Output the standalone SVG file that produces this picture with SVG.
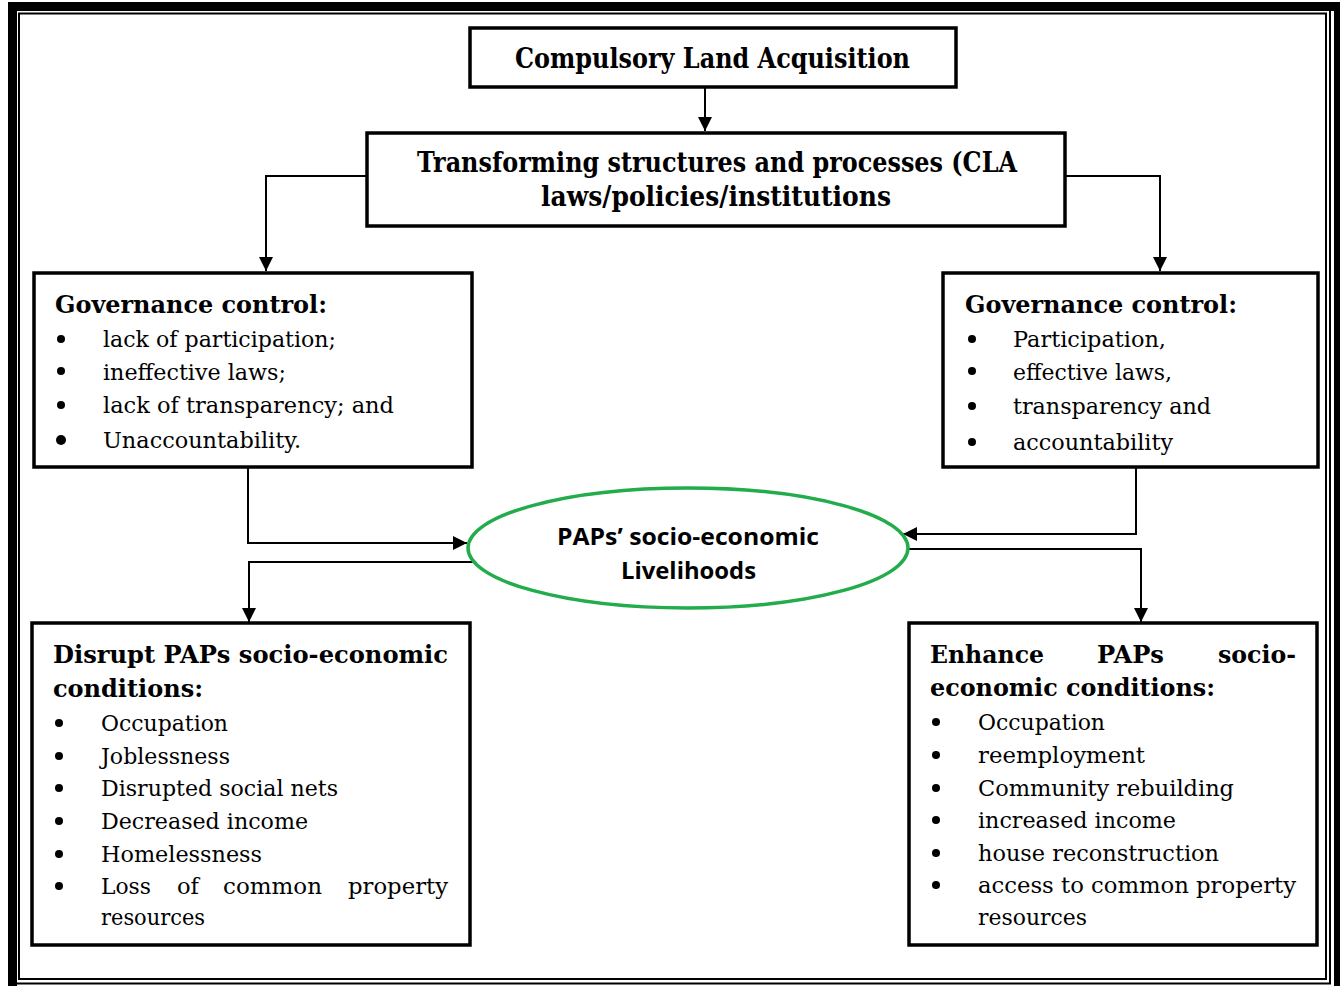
<svg xmlns="http://www.w3.org/2000/svg" width="1340" height="986" viewBox="0 0 1340 986">
<style>
.box{fill:#fff;stroke:#000;stroke-width:3.5}
.con{fill:none;stroke:#000;stroke-width:2}
.tb{font-family:"DejaVu Serif","Liberation Serif",serif;font-weight:bold;fill:#000}
.tr{font-family:"DejaVu Serif","Liberation Serif",serif;font-weight:normal;fill:#000;font-size:22px}
.ts{font-family:"Open Sans","Liberation Sans",sans-serif;font-weight:bold;fill:#000;font-size:24px}
.bul{fill:#000}
</style>
<defs>
<marker id="ah" viewBox="0 0 10 10" refX="10" refY="5" markerUnits="userSpaceOnUse" markerWidth="14" markerHeight="14" orient="auto">
<path d="M0,0 L10,5 L0,10 z" fill="#000"/>
</marker>
</defs>
<rect width="1340" height="986" fill="#fff"/>
<g id="page-border">
<rect x="8" y="2" width="9" height="984" fill="#000"/>
<rect x="8" y="2" width="1328" height="9" fill="#000"/>
<rect x="1334" y="2" width="6" height="984" fill="#000"/>
<rect x="19" y="13.5" width="1307" height="965.5" fill="none" stroke="#000" stroke-width="2"/>
<path d="M1330,11 V983.5 H17" fill="none" stroke="#000" stroke-width="2"/>
</g>
<g id="connectors">
<path class="con" d="M705,88 V131" marker-end="url(#ah)"/>
<path class="con" d="M367,176 H266 V271" marker-end="url(#ah)"/>
<path class="con" d="M1065,176 H1160 V271" marker-end="url(#ah)"/>
<path class="con" d="M248,467 V543 H467" marker-end="url(#ah)"/>
<path class="con" d="M473,562 H249 V622" marker-end="url(#ah)"/>
<path class="con" d="M1136,467 V534 H903" marker-end="url(#ah)"/>
<path class="con" d="M909,549 H1141 V622" marker-end="url(#ah)"/>
</g>
<g id="node-cla">
<rect class="box" x="470" y="28" width="486" height="59"/>
<text class="tb" x="515" y="68" font-size="27" textLength="395" lengthAdjust="spacingAndGlyphs">Compulsory Land Acquisition</text>
</g>
<g id="node-transforming">
<rect class="box" x="367" y="133" width="698" height="93"/>
<text class="tb" x="417" y="172" font-size="27" textLength="600" lengthAdjust="spacingAndGlyphs">Transforming structures and processes (CLA</text>
<text class="tb" x="541" y="206" font-size="27" textLength="350" lengthAdjust="spacingAndGlyphs">laws/policies/institutions</text>
</g>
<g id="node-gov-left">
<rect class="box" x="34" y="273" width="438" height="194"/>
<text class="tb" x="55" y="313" font-size="25" textLength="272" lengthAdjust="spacingAndGlyphs">Governance control:</text>
<circle class="bul" cx="61" cy="339" r="4"/>
<circle class="bul" cx="61" cy="371" r="4"/>
<circle class="bul" cx="61" cy="405" r="4"/>
<circle class="bul" cx="61" cy="440" r="5"/>
<text class="tr" x="103" y="347" textLength="233" lengthAdjust="spacingAndGlyphs">lack of participation;</text>
<text class="tr" x="103" y="380" textLength="183" lengthAdjust="spacingAndGlyphs">ineffective laws;</text>
<text class="tr" x="103" y="413" textLength="291" lengthAdjust="spacingAndGlyphs">lack of transparency;  and</text>
<text class="tr" x="103" y="448" textLength="198" lengthAdjust="spacingAndGlyphs">Unaccountability.</text>
</g>
<g id="node-gov-right">
<rect class="box" x="943" y="273" width="375" height="194"/>
<text class="tb" x="965" y="313" font-size="25" textLength="272" lengthAdjust="spacingAndGlyphs">Governance control:</text>
<circle class="bul" cx="972" cy="339" r="4"/>
<circle class="bul" cx="972" cy="371" r="4"/>
<circle class="bul" cx="972" cy="406" r="4"/>
<circle class="bul" cx="972" cy="442" r="4"/>
<text class="tr" x="1013" y="347" textLength="153" lengthAdjust="spacingAndGlyphs">Participation,</text>
<text class="tr" x="1013" y="380" textLength="159" lengthAdjust="spacingAndGlyphs">effective laws,</text>
<text class="tr" x="1013" y="414" textLength="198" lengthAdjust="spacingAndGlyphs">transparency and</text>
<text class="tr" x="1013" y="450" textLength="160" lengthAdjust="spacingAndGlyphs">accountability</text>
</g>
<g id="node-livelihoods">
<ellipse cx="688" cy="548" rx="220" ry="60" fill="#fff" stroke="#22ac4c" stroke-width="3.5"/>
<text class="ts" x="557" y="545" textLength="262" lengthAdjust="spacingAndGlyphs">PAPs’ socio-economic</text>
<text class="ts" x="621" y="579" textLength="135" lengthAdjust="spacingAndGlyphs">Livelihoods</text>
</g>
<g id="node-disrupt">
<rect class="box" x="32" y="623" width="438" height="322"/>
<text class="tb" x="53" y="663" font-size="25" textLength="395" lengthAdjust="spacingAndGlyphs">Disrupt PAPs socio-economic</text>
<text class="tb" x="53" y="697" font-size="25" textLength="150" lengthAdjust="spacingAndGlyphs">conditions:</text>
<circle class="bul" cx="59" cy="723" r="4"/>
<circle class="bul" cx="59" cy="756" r="4"/>
<circle class="bul" cx="59" cy="788" r="4"/>
<circle class="bul" cx="59" cy="821" r="4"/>
<circle class="bul" cx="59" cy="854" r="4"/>
<circle class="bul" cx="59" cy="886" r="4"/>
<text class="tr" x="101" y="731" textLength="127" lengthAdjust="spacingAndGlyphs">Occupation</text>
<text class="tr" x="101" y="764" textLength="129" lengthAdjust="spacingAndGlyphs">Joblessness</text>
<text class="tr" x="101" y="796" textLength="237" lengthAdjust="spacingAndGlyphs">Disrupted social nets</text>
<text class="tr" x="101" y="829" textLength="207" lengthAdjust="spacingAndGlyphs">Decreased income</text>
<text class="tr" x="101" y="862" textLength="161" lengthAdjust="spacingAndGlyphs">Homelessness</text>
<text class="tr" x="101" y="894" textLength="50" lengthAdjust="spacingAndGlyphs">Loss</text>
<text class="tr" x="177" y="894" textLength="22" lengthAdjust="spacingAndGlyphs">of</text>
<text class="tr" x="223" y="894" textLength="99" lengthAdjust="spacingAndGlyphs">common</text>
<text class="tr" x="348" y="894" textLength="100" lengthAdjust="spacingAndGlyphs">property</text>
<text class="tr" x="101" y="925" textLength="104" lengthAdjust="spacingAndGlyphs">resources</text>
</g>
<g id="node-enhance">
<rect class="box" x="909" y="623" width="408" height="322"/>
<text class="tb" x="930" y="663" font-size="25" textLength="114" lengthAdjust="spacingAndGlyphs">Enhance</text>
<text class="tb" x="1097" y="663" font-size="25" textLength="67" lengthAdjust="spacingAndGlyphs">PAPs</text>
<text class="tb" x="1218" y="663" font-size="25" textLength="78" lengthAdjust="spacingAndGlyphs">socio-</text>
<text class="tb" x="930" y="696" font-size="25" textLength="285" lengthAdjust="spacingAndGlyphs">economic conditions:</text>
<circle class="bul" cx="936" cy="722" r="4"/>
<circle class="bul" cx="936" cy="755" r="4"/>
<circle class="bul" cx="936" cy="788" r="4"/>
<circle class="bul" cx="936" cy="820" r="4"/>
<circle class="bul" cx="936" cy="853" r="4"/>
<circle class="bul" cx="936" cy="885" r="4"/>
<text class="tr" x="978" y="730" textLength="127" lengthAdjust="spacingAndGlyphs">Occupation</text>
<text class="tr" x="978" y="763" textLength="167" lengthAdjust="spacingAndGlyphs">reemployment</text>
<text class="tr" x="978" y="796" textLength="256" lengthAdjust="spacingAndGlyphs">Community rebuilding</text>
<text class="tr" x="978" y="828" textLength="198" lengthAdjust="spacingAndGlyphs">increased income</text>
<text class="tr" x="978" y="861" textLength="241" lengthAdjust="spacingAndGlyphs">house reconstruction</text>
<text class="tr" x="978" y="893" textLength="318" lengthAdjust="spacingAndGlyphs">access to common property</text>
<text class="tr" x="978" y="925" textLength="109" lengthAdjust="spacingAndGlyphs">resources</text>
</g>
</svg>
